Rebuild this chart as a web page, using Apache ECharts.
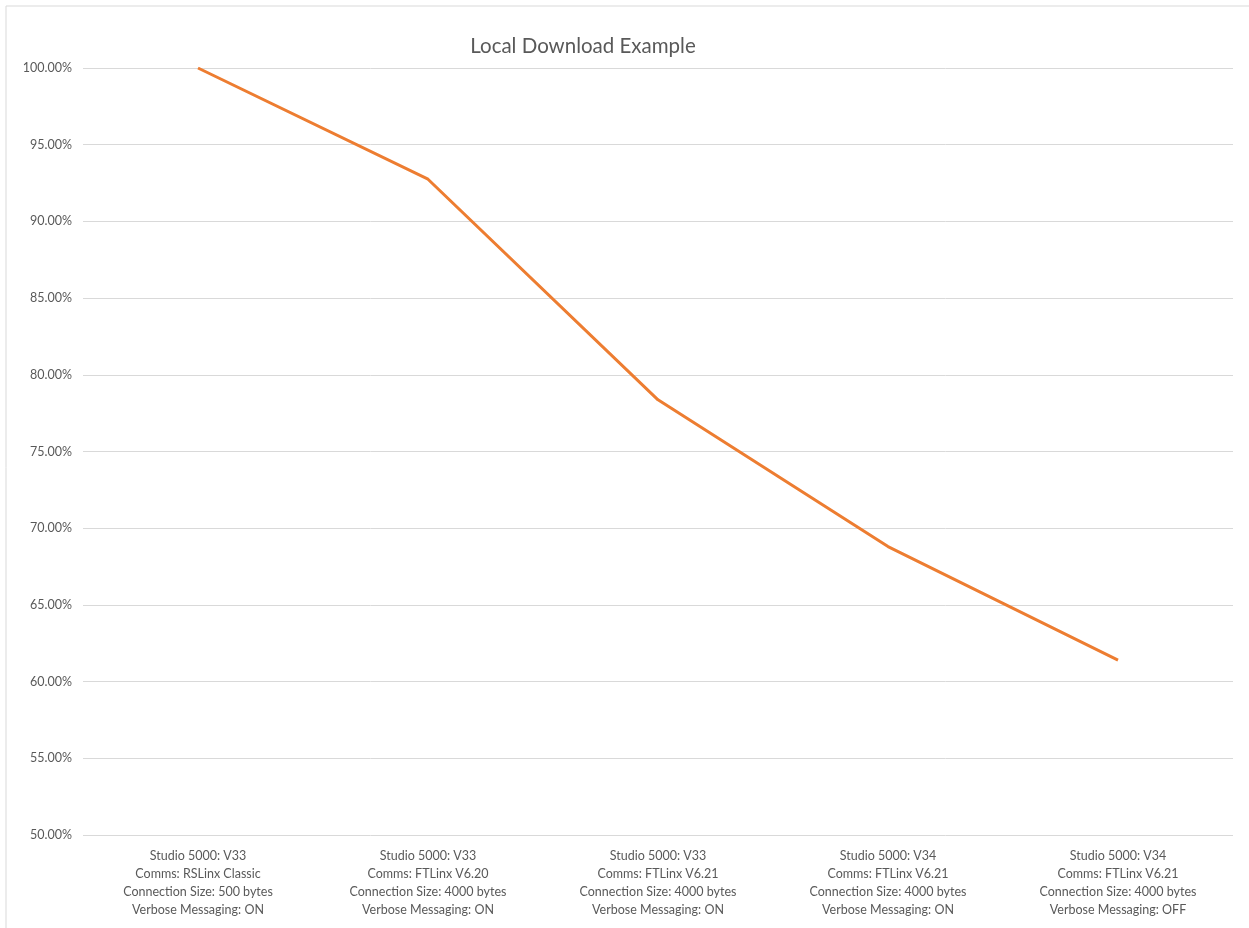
<!DOCTYPE html>
<html><head><meta charset="utf-8">
<script src="https://cdn.jsdelivr.net/npm/echarts@6/dist/echarts.min.js"></script>
<style>html,body{margin:0;padding:0;background:#fff}#c{width:1249px;height:928px}</style>
</head><body><div id="c"></div>
<script>
const categories = [
  "Studio 5000: V33\nComms: RSLinx Classic\nConnection Size: 500 bytes\nVerbose Messaging: ON",
  "Studio 5000: V33\nComms: FTLinx V6.20\nConnection Size: 4000 bytes\nVerbose Messaging: ON",
  "Studio 5000: V33\nComms: FTLinx V6.21\nConnection Size: 4000 bytes\nVerbose Messaging: ON",
  "Studio 5000: V34\nComms: FTLinx V6.21\nConnection Size: 4000 bytes\nVerbose Messaging: ON",
  "Studio 5000: V34\nComms: FTLinx V6.21\nConnection Size: 4000 bytes\nVerbose Messaging: OFF"
];
const values = [100.0, 92.75, 78.37, 68.8, 61.4];
const chartTitle = "Local Download Example";
const font = "Lato";
const chart = echarts.init(document.getElementById('c'));
chart.setOption({
  animation: false,
  backgroundColor: '#fff',
  title: {
    text: chartTitle, left: 578, top: 31, textAlign: 'center',
    textStyle: { fontFamily: font, fontSize: 20.5, fontWeight: 'normal', color: '#595959' }
  },
  graphic: [{ type: 'rect', shape: { x: 6, y: 6, width: 1300, height: 1000 },
    style: { fill: 'none', stroke: '#d9d9d9', lineWidth: 1 }, silent: true }],
  grid: { left: 83, right: 16, top: 68, bottom: 93, containLabel: false },
  xAxis: {
    type: 'category', data: categories, boundaryGap: true,
    axisLine: { show: false }, axisTick: { show: false },
    axisLabel: { interval: 0, margin: 12, lineHeight: 18, fontFamily: font, fontSize: 12.5, color: '#595959', align: 'center' }
  },
  yAxis: {
    type: 'value', min: 50, max: 100, interval: 5,
    axisLine: { show: false }, axisTick: { show: false },
    splitLine: { lineStyle: { color: '#d9d9d9', width: 1 } },
    axisLabel: { margin: 11, fontFamily: font, fontSize: 12.5, color: '#595959',
      formatter: v => v.toFixed(2) + '%' }
  },
  series: [{
    type: 'line', data: values, showSymbol: false, symbol: 'none',
    lineStyle: { color: '#ED7D31', width: 3 }
  }]
});
</script></body></html>
